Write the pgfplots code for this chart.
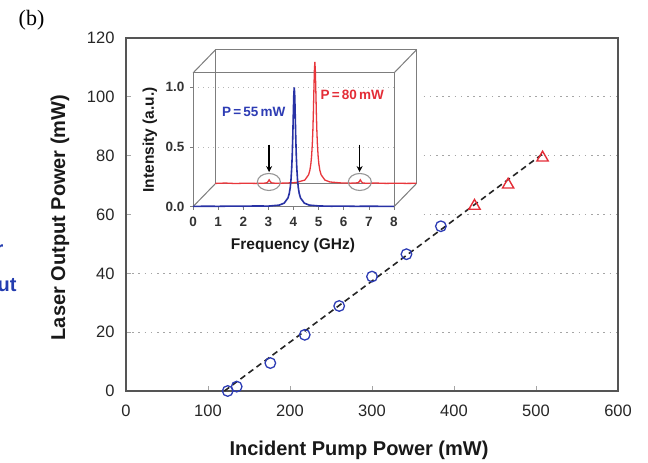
\documentclass[border=0pt]{standalone}
\usepackage{pgfplots}
\pgfplotsset{compat=1.18}
\usepackage{pgfplotstable}
\usepackage{fontspec}
\setmainfont{Liberation Sans}
\newfontfamily\serifface{Liberation Serif}
\usetikzlibrary{arrows.meta}

\definecolor{ptblue}{RGB}{45,60,180}
\definecolor{ptred}{RGB}{228,45,55}
\definecolor{specblue}{RGB}{40,50,165}
\definecolor{specred}{RGB}{232,55,60}
\definecolor{framegray}{RGB}{85,85,85}
\definecolor{gridgray}{RGB}{165,165,165}
\definecolor{boxgray}{RGB}{125,125,125}
\definecolor{ringgray}{RGB}{150,150,150}
\definecolor{panelblue}{RGB}{35,60,175}

% RF beat spectrum at P = 55 mW (front trace)
\pgfplotstableread{
f     I
0.00  0.002
0.50  0.004
1.00  0.003
1.50  0.005
2.00  0.004
2.50  0.006
3.00  0.005
3.43  0.013
3.63  0.030
3.78  0.073
3.83  0.109
3.87  0.161
3.90  0.225
3.93  0.329
3.95  0.434
3.97  0.576
3.99  0.754
4.01  0.925
4.03  1.000
4.05  0.925
4.07  0.754
4.09  0.576
4.11  0.434
4.13  0.329
4.16  0.225
4.19  0.161
4.23  0.109
4.28  0.073
4.43  0.030
4.63  0.013
5.03  0.006
5.50  0.004
6.00  0.005
6.50  0.003
7.00  0.004
7.50  0.003
8.00  0.002
}\specA

% RF beat spectrum at P = 80 mW (rear trace, own baseline)
\pgfplotstableread{
f     I
0.00  0.002
0.40  0.005
0.80  0.001
1.20  0.004
1.60  0.002
1.95  0.004
2.06  0.008
2.10  0.018
2.14  0.032
2.18  0.018
2.23  0.007
2.40  0.003
2.80  0.005
3.20  0.009
3.56  0.030
3.71  0.074
3.76  0.111
3.80  0.164
3.83  0.230
3.86  0.336
3.88  0.443
3.90  0.588
3.92  0.769
3.94  0.944
3.96  1.020
3.98  0.944
4.00  0.769
4.02  0.588
4.04  0.443
4.06  0.336
4.09  0.230
4.12  0.164
4.16  0.111
4.21  0.074
4.36  0.030
4.56  0.014
5.00  0.006
5.40  0.004
5.68  0.007
5.73  0.018
5.77  0.032
5.81  0.018
5.86  0.006
6.00  0.003
6.40  0.005
6.80  0.002
7.20  0.004
7.60  0.002
8.00  0.003
}\specB

\begin{document}
\begin{tikzpicture}[x=1bp,y=1bp]
\useasboundingbox (0,0) rectangle (648,463);

% panel tag and neighbouring panel text
\node[font=\serifface\fontsize{22bp}{26bp}\selectfont, anchor=center] at (31.5,443) {(b)};
\node[font=\bfseries\fontsize{20bp}{24bp}\selectfont, text=panelblue, anchor=base east, inner sep=0pt] at (16.7,171.3) {Output};
\node[font=\bfseries\fontsize{20bp}{24bp}\selectfont, text=panelblue, anchor=base east, inner sep=0pt] at (3.5,207.6) {for};

\begin{axis}[
  at={(126bp,72bp)}, anchor=south west,
  scale only axis, width=492bp, height=353bp,
  xmin=0, xmax=600, ymin=0, ymax=120,
  xtick={0,100,...,600}, ytick={0,20,...,120},
  tick align=inside, xtick pos=bottom, ytick pos=left,
  major tick length=5bp,
  tick style={color=gridgray, line width=0.8bp},
  ymajorgrids,
  grid style={gridgray, line width=1.3bp, dash pattern=on 1.6bp off 4.6bp},
  axis line style={framegray, line width=1.8bp},
  /pgf/number format/assume math mode=true,
  ticklabel style={font=\fontsize{16.5bp}{19bp}\selectfont, text=black!85},
  xticklabel style={yshift=-10bp},
  yticklabel style={xshift=-8bp},
  xlabel={Incident Pump Power (mW)},
  ylabel={Laser Output Power (mW)},
  label style={font=\bfseries\fontsize{20bp}{24bp}\selectfont, text=black!90},
  xlabel style={at={(axis description cs:0.4736,-0.169)}, anchor=center},
  ylabel style={at={(axis description cs:-0.134,0.4915)}, anchor=center},
  clip=false,
]
% linear fit above threshold
\addplot[black!85, line width=1.6bp, dash pattern=on 6bp off 4bp] coordinates {(120,0) (510,81)};
% measured output power, below and above the mode transition
\addplot[only marks, mark=o, mark size=5.3bp, ptblue, line width=1.3bp] coordinates {
  (124,0) (135,1.5) (176,9.5) (218,19.1) (260,28.9) (300,38.9) (342,46.5) (384,56.0)
};
\addplot[only marks, mark=triangle, mark size=6.5bp, ptred, line width=1.4bp] coordinates {
  (425,62.9) (466,70.1) (508,79.3)
};
\end{axis}

% blank panel behind the inset
\fill[white] (132,230) rectangle (423,423.9);

\begin{axis}[
  at={(193bp,256.3bp)}, anchor=south west,
  scale only axis, width=201bp, height=133.7bp,
  xmin=0, xmax=8, ymin=0, ymax=1.12,
  xtick={0,1,...,8}, ytick={0,0.5,1},
  tick align=outside, xtick pos=bottom, ytick pos=left,
  major tick length=3bp,
  tick style={color=boxgray, line width=0.7bp},
  ymajorgrids,
  grid style={gridgray!80, line width=1bp, dash pattern=on 1.4bp off 3.6bp},
  axis line style={boxgray, line width=1bp},
  /pgf/number format/assume math mode=true,
  ticklabel style={font=\bfseries\fontsize{13.5bp}{16bp}\selectfont, text=black!80},
  xticklabel style={yshift=-4bp},
  yticklabel style={xshift=-2bp, /pgf/number format/fixed, /pgf/number format/fixed zerofill, /pgf/number format/precision=1},
  xlabel={Frequency (GHz)},
  ylabel={Intensity (a.u.)},
  label style={font=\bfseries\fontsize{15.5bp}{18bp}\selectfont, text=black!90},
  xlabel style={at={(axis description cs:0.4975,-0.29)}, anchor=center},
  ylabel style={at={(axis description cs:-0.214,0.499)}, anchor=center},
  clip=false,
]
% wire frame of the waterfall box
\draw[boxgray, line width=1bp] (axis cs:0.89,0.193) rectangle (axis cs:8.89,1.313);
\draw[boxgray, line width=1bp] (axis cs:0,0) -- (axis cs:0.89,0.193)
  (axis cs:8,0) -- (axis cs:8.89,0.193)
  (axis cs:0,1.12) -- (axis cs:0.89,1.313)
  (axis cs:8,1.12) -- (axis cs:8.89,1.313);
% rear trace, shifted into the back plane
\addplot[specred, line width=1.3bp] table[x expr=\thisrow{f}+0.89, y expr=\thisrow{I}+0.193] {\specB};
% front trace
\addplot[specblue, line width=1.6bp] table[x=f, y=I] {\specA};
% side-band markers
\draw[ringgray, line width=1.1bp] (axis cs:3.02,0.207) ellipse [x radius=11.5bp, y radius=8.5bp];
\draw[ringgray, line width=1.1bp] (axis cs:6.64,0.207) ellipse [x radius=11.5bp, y radius=8.5bp];
\draw[black, line width=1.4bp, -{Stealth[length=6bp,width=6bp]}] (axis cs:3.03,0.52) -- (axis cs:3.03,0.29);
\draw[black, line width=1.4bp, -{Stealth[length=6bp,width=6bp]}] (axis cs:6.63,0.52) -- (axis cs:6.63,0.29);
\node[text=ptblue, font=\bfseries\fontsize{13.5bp}{16bp}\selectfont] at (axis cs:2.42,0.795) {P\,=\,55\,mW};
\node[text=ptred, font=\bfseries\fontsize{13.5bp}{16bp}\selectfont] at (axis cs:6.34,0.935) {P\,=\,80\,mW};
\end{axis}
\end{tikzpicture}
\end{document}
